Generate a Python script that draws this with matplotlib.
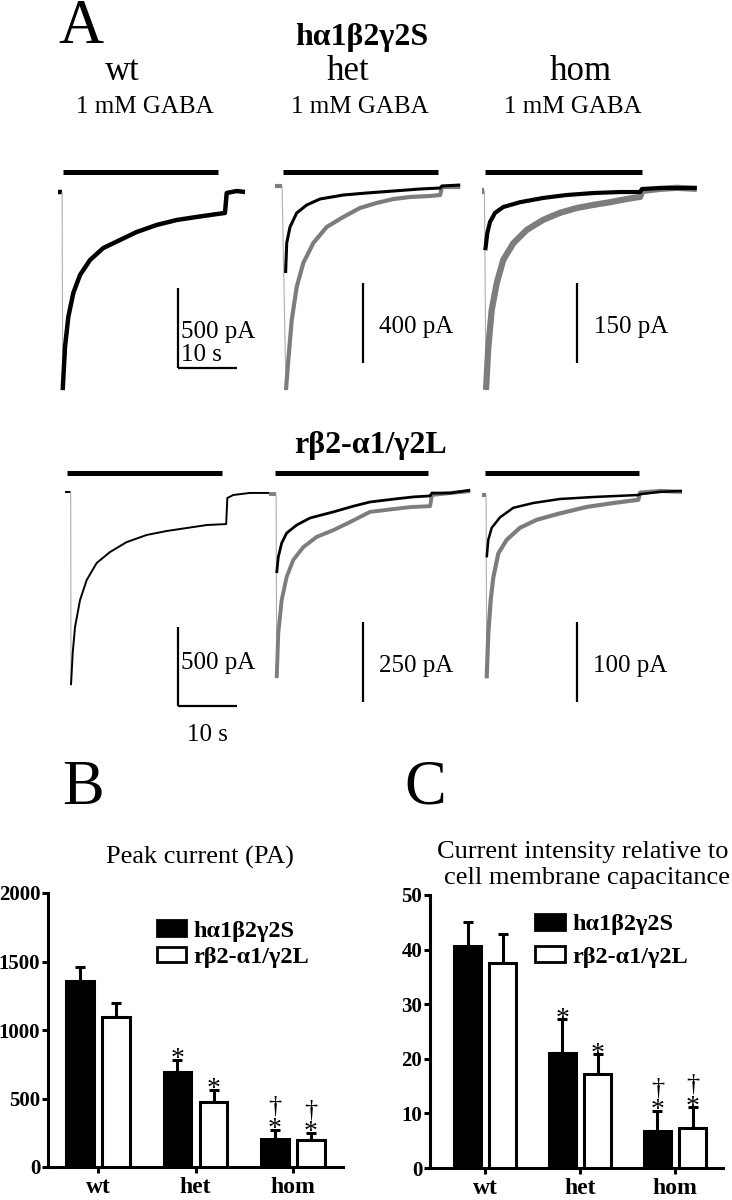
import matplotlib
matplotlib.use('Agg')
import numpy as np
import matplotlib.pyplot as plt
from matplotlib.patches import Patch

plt.rcParams['font.family'] = ['Liberation Serif', 'DejaVu Serif']

# ---- panel A: current traces (time in s, current in pA) ----
# h-alpha1beta2gamma2S (top row)
h_wt_t = [-0.8, -0.1, 0.0, 0.39, 0.95, 1.8, 2.93, 4.63, 6.88, 9.71, 12.54, 15.93, 19.32, 22.7, 26.1, 27.5, 27.8, 29.5, 30.9]
h_wt_i = [0, 0, -1238, -969, -781, -631, -519, -425, -350, -300, -250, -206, -175, -156, -138, -131, -6, 6, 0]

h_het_gray_t = [-1.7, -0.5, 0.17, 0.56, 1.14, 1.98, 3.1, 4.8, 7.07, 9.88, 12.7, 15.5, 18.4, 21.2, 24.6, 26.3, 26.6, 29.7]
h_het_gray_i = [0, 0, -1020, -870, -670, -505, -385, -285, -205, -155, -110, -85, -65, -55, -50, -45, -5, -5]
h_het_black_t = [0.1, 0.29, 0.85, 1.98, 3.68, 5.93, 9.88, 13.85, 18.4, 22.9, 26.3, 26.6, 29.7]
h_het_black_i = [-435, -285, -205, -135, -95, -65, -45, -35, -25, -15, -10, 0, 5]

h_hom_gray_t = [-0.5, -0.1, 0.17, 0.56, 1.14, 1.98, 3.1, 4.8, 7.07, 9.88, 12.7, 15.5, 18.4, 21.2, 24.0, 26.3, 26.6, 29.7, 32.5, 35.9]
h_hom_gray_i = [0, 0, -373, -293, -223, -173, -129, -98, -73, -54, -41, -32, -26, -21, -15, -11, 0, 4, 6, 4]
h_hom_black_t = [0.05, 0.39, 0.85, 1.7, 3.1, 5.93, 9.88, 13.85, 18.4, 22.9, 26.3, 26.6, 29.7, 35.9]
h_hom_black_i = [-111, -79, -58, -41, -30, -21, -13, -7.5, -3.8, -1.9, -1.9, 3.8, 5.6, 5.6]

# r-beta2-alpha1/gamma2L (bottom row)
r_wt_t = [-1.0, -0.05, 0.0, 0.29, 0.68, 1.53, 2.66, 4.36, 6.61, 9.44, 12.83, 16.2, 19.6, 23.0, 26.3, 26.5, 27.5, 30.3, 33.6]
r_wt_i = [0, 0, -1222, -1019, -855, -684, -557, -449, -380, -317, -272, -247, -228, -209, -203, -38, -19, -6, -6]

r_het_gray_t = [-1.3, -0.1, 0.0, 0.27, 0.85, 1.69, 2.81, 4.51, 6.78, 9.59, 12.4, 15.8, 19.8, 22.6, 26.0, 26.3, 29.4, 32.8]
r_het_gray_i = [0, 0, -575, -434, -331, -259, -206, -166, -134, -113, -88, -56, -47, -41, -38, -3, 3, 9]
r_het_black_t = [0.0, 0.27, 0.85, 1.69, 3.39, 5.64, 9.59, 13.0, 15.8, 19.8, 23.2, 26.0, 26.3, 29.4, 32.8]
r_het_black_i = [-247, -197, -153, -122, -97, -75, -56, -38, -25, -16, -9, -6, 3, 3, 12]

r_hom_gray_t = [-0.85, -0.1, 0.0, 0.27, 0.68, 1.12, 1.97, 3.39, 5.64, 8.47, 12.4, 16.9, 21.5, 25.7, 26.0, 29.4, 33.1]
r_hom_gray_i = [0, 0, -229, -173, -131, -103, -73, -56, -41, -31, -23, -15, -10, -6, 3, 5, 4]
r_hom_black_t = [0.0, 0.27, 0.85, 2.25, 4.51, 7.9, 12.4, 18.1, 25.7, 26.0, 29.4, 33.1]
r_hom_black_i = [-78, -56, -41, -28, -16, -10, -5, -2.5, 0, 1, 4, 5]

# GABA application (s)
h_gaba_on = [0.05, -0.34, 0.0]
h_gaba_off = [26.3, 25.9, 26.6]
r_gaba_on = [-0.68, -0.3, -0.3]
r_gaba_off = [25.6, 25.6, 25.8]

# scale bars (pA)
h_scale_pa = [500, 400, 150]
r_scale_pa = [500, 250, 100]
scale_s = 10

# ---- panels B and C ----
genotypes = ['wt', 'het', 'hom']
peak_h = [1355, 695, 207]
peak_h_sem = [104, 85, 66]
peak_r = [1098, 476, 200]
peak_r_sem = [102, 85, 49]
dens_h = [40.7, 21.1, 6.7]
dens_h_sem = [4.4, 6.1, 3.7]
dens_r = [37.6, 17.2, 7.3]
dens_r_sem = [5.2, 3.6, 3.8]
signif = ['', '*', '*†']
label_h = 'hα1β2γ2S'
label_r = 'rβ2-α1/γ2L'

W, H = 732, 1200
PX_PER_S = 5.9
fig = plt.figure(figsize=(W / 100, H / 100), dpi=100)


def box(left, top, width, height):
    return [left / W, 1 - (top + height) / H, width / W, height / H]


def ftext(x, y, s, **kw):
    fig.text(x / W, 1 - y / H, s, **kw)


def trace_axes(x0, y0, pa_per_px):
    # axes whose data units are s / pA with the onset at pixel (x0, y0)
    ax = fig.add_axes(box(x0 - 30, y0 - 45, 260, 300))
    ax.set_xlim(-30 / PX_PER_S, 230 / PX_PER_S)
    ax.set_ylim(-255 * pa_per_px, 45 * pa_per_px)
    ax.axis('off')
    return ax


def plot_trace(ax, t, i, color, lw, onset):
    if onset:
        ax.plot(t[:2], i[:2], color=color, lw=lw, solid_capstyle='butt')
        ax.plot(t[1:3], i[1:3], color='#b0b0b0', lw=0.8)
        t, i = t[2:], i[2:]
    ax.plot(t, i, color=color, lw=lw, solid_joinstyle='round', solid_capstyle='butt')


GRAY = '#7d7d7d'

# top row
top_x0 = [62.7, 285, 485]
top_y0 = [192, 186, 191]
top_k = [6.25, 5.0, 1.875]
# bottom row
bot_x0 = [71, 276.7, 486.7]
bot_y0 = [492, 494, 495]
bot_k = [6.33, 3.125, 1.25]

top_traces = [
    [(h_wt_t, h_wt_i, 'black', 3.2, True)],
    [(h_het_gray_t, h_het_gray_i, GRAY, 3.0, True), (h_het_black_t, h_het_black_i, 'black', 2.2, False)],
    [(h_hom_gray_t, h_hom_gray_i, GRAY, 4.5, True), (h_hom_black_t, h_hom_black_i, 'black', 3.0, False)],
]
bot_traces = [
    [(r_wt_t, r_wt_i, 'black', 1.4, True)],
    [(r_het_gray_t, r_het_gray_i, GRAY, 2.8, True), (r_het_black_t, r_het_black_i, 'black', 2.0, False)],
    [(r_hom_gray_t, r_hom_gray_i, GRAY, 3.0, True), (r_hom_black_t, r_hom_black_i, 'black', 1.8, False)],
]
# scale bar layout: (x in s, top in px below baseline)
top_sb = [(19.5, 96), (13.2, 97), (15.6, 92)]
bot_sb = [(18.1, 135), (14.6, 128), (15.3, 127)]

rows = [
    (top_x0, top_y0, top_k, top_traces, h_gaba_on, h_gaba_off, h_scale_pa, top_sb, 172),
    (bot_x0, bot_y0, bot_k, bot_traces, r_gaba_on, r_gaba_off, r_scale_pa, bot_sb, 473),
]
for r, (xs, ys, ks, traces, g_on, g_off, sbars, sb_pos, bar_px) in enumerate(rows):
    for c in range(3):
        ax = trace_axes(xs[c], ys[c], ks[c])
        k = ks[c]
        for t, i, color, lw, onset in traces[c]:
            plot_trace(ax, t, i, color, lw, onset)
        ax.hlines((ys[c] - bar_px) * k, g_on[c], g_off[c], color='black', lw=3.6)
        sx, stop_px = sb_pos[c]
        itop = -stop_px * k
        ibot = itop - sbars[c]
        mid = (itop + ibot) / 2
        ax.vlines(sx, ibot, itop, color='black', lw=1.6)
        if c == 0:
            ax.hlines(ibot, sx, sx + scale_s, color='black', lw=1.6)
            ax.text(sx + 0.6, mid + 0.05 * sbars[c] * (2 * r - 1), f'{sbars[c]} pA',
                    fontsize=18, ha='left', va='center')
            if r == 0:
                ax.text(sx + 0.6, ibot + 2 * k, f'{scale_s} s', fontsize=18,
                        ha='left', va='bottom')
            else:
                ax.text(sx + scale_s / 2, ibot - 29 * k, f'{scale_s} s', fontsize=18,
                        ha='center', va='center')
        else:
            ax.text(sx + 2.8, mid - 0.05 * sbars[c], f'{sbars[c]} pA',
                    fontsize=18, ha='left', va='center')

ftext(81, 43, 'A', fontsize=45, ha='center', va='baseline')
ftext(362, 38, label_h, fontsize=23, fontweight='bold', ha='center', va='center')
for x, g in zip([122, 348, 581], genotypes):
    ftext(x, 71, g, fontsize=25, ha='center', va='center')
for x in [145, 360, 573]:
    ftext(x, 107, '1 mM GABA', fontsize=18, ha='center', va='center')
ftext(371, 445, label_r, fontsize=23, fontweight='bold', ha='center', va='center')

# ---- bar panels ----
handles = [Patch(facecolor='black', edgecolor='black', linewidth=2),
           Patch(facecolor='white', edgecolor='black', linewidth=2)]


def bar_panel(rect, xlim, h_vals, h_err, r_vals, r_err, ymax, ystep, leg_anchor, leg_space):
    ax = fig.add_axes(rect)
    x = np.arange(len(genotypes))
    off, w = 0.185, 0.28
    for dx, vals, err, fc in [(-off, h_vals, h_err, 'black'), (off, r_vals, r_err, 'white')]:
        ax.bar(x + dx, vals, w, color=fc, edgecolor='black', linewidth=2.2, zorder=3)
        ax.errorbar(x + dx, vals, yerr=[np.zeros(len(vals)), err], fmt='none',
                    ecolor='black', elinewidth=2.2, capsize=3.8, capthick=2.2, zorder=2)
        for xi, v, e, m in zip(x + dx, vals, err, signif):
            if '*' in m:
                ax.annotate('*', (xi, v + e), xytext=(0, -4.5), textcoords='offset points',
                            ha='center', va='baseline', fontsize=20)
            if '†' in m:
                ax.annotate('†', (xi, v + e), xytext=(0, 12), textcoords='offset points',
                            ha='center', va='baseline', fontsize=19)
    ax.set_xlim(*xlim)
    ax.set_ylim(0, ymax)
    ax.set_yticks(np.arange(0, ymax + 1, ystep))
    ax.set_xticks(x)
    ax.set_xticklabels(genotypes)
    for s in ['top', 'right']:
        ax.spines[s].set_visible(False)
    for s in ['left', 'bottom']:
        ax.spines[s].set_linewidth(2.2)
    ax.tick_params(width=2.2, length=4.5, pad=1)
    ax.tick_params(axis='y', labelsize=15)
    ax.tick_params(axis='x', labelsize=17, pad=3)
    for lab in ax.get_xticklabels() + ax.get_yticklabels():
        lab.set_fontweight('bold')
    ax.legend(handles, [label_h, label_r], loc='upper left', bbox_to_anchor=leg_anchor,
              frameon=False, prop={'weight': 'bold', 'size': 17.5}, handlelength=1.2,
              handleheight=0.6, handletextpad=0.3, labelspacing=leg_space, borderpad=0,
              borderaxespad=0)
    return ax


bar_panel(box(48, 893, 295, 274), (-0.513, 2.513), peak_h, peak_h_sem, peak_r, peak_r_sem,
          2000, 500, (0.37, 0.90), 0.2)
bar_panel(box(430, 895, 293, 273), (-0.58, 2.505), dens_h, dens_h_sem, dens_r, dens_r_sem,
          50, 10, (0.36, 0.93), 0.45)

ftext(83, 789, 'B', fontsize=45, ha='center', va='center')
ftext(425, 789, 'C', fontsize=45, ha='center', va='center')
ftext(200, 857, 'Peak current (PA)', fontsize=19, ha='center', va='center')
ftext(583, 852, 'Current intensity relative to', fontsize=19, ha='center', va='center')
ftext(587, 878, 'cell membrane capacitance', fontsize=19, ha='center', va='center')

fig.savefig('out.png', dpi=100)
